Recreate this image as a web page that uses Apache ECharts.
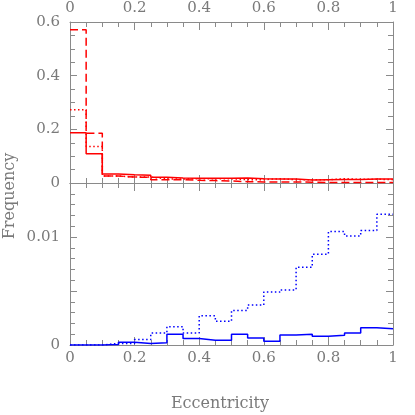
<!DOCTYPE html>
<html><head><meta charset="utf-8">
<script src="https://cdn.jsdelivr.net/npm/echarts@6/dist/echarts.min.js"></script>
<style>html,body{margin:0;padding:0;background:#fff}#c{width:415px;height:415px}</style>
</head><body><div id="c"></div>
<script>
// Bin edges (eccentricity)
const binEdges = [0,0.05,0.1,0.15,0.2,0.25,0.3,0.35,0.4,0.45,0.5,0.55,0.6,0.65,0.7,0.75,0.8,0.85,0.9,0.95,1.0];
// Top panel (red) frequencies per bin
const redSolid  = [0.1875,0.109,0.034,0.031,0.029,0.021,0.019,0.0175,0.0175,0.0175,0.019,0.016,0.015,0.015,0.0115,0.0125,0.0135,0.0135,0.015,0.015];
const redDashed = [0.571,0.185,0.026,0.022,0.021,0.0125,0.0125,0.010,0.009,0.0075,0.005,0.004,0.004,0.004,0.003,0.002,0.002,0.002,0.002,0.002];
const redDotted = [0.273,0.136,0.026,0.0225,0.022,0.015,0.015,0.016,0.016,0.016,0.0125,0.0125,0.016,0.012,0.0125,0.0125,0.016,0.0135,0.014,0.0125];
// Bottom panel (blue) frequencies per bin
const blueSolid  = [0,0,0.00005,0.00025,0.00015,0.0002,0.001,0.0006,0.00045,0.00045,0.001,0.00065,0.00034,0.00093,0.001,0.0008,0.0009,0.0011,0.0016,0.0015];
const blueDotted = [0,0,0.00015,0.00015,0.0005,0.0011,0.0017,0.0011,0.0027,0.0022,0.0032,0.0037,0.0049,0.0051,0.0072,0.0084,0.0105,0.0101,0.0106,0.0121];
// Tick labels
const topYLabels = ['0','0.2','0.4','0.6'];
const bottomYLabels = ['0','0.01'];

function steps(vals){
  const d = vals.map((v,i)=>[binEdges[i], v]);
  d.push([binEdges[vals.length], vals[vals.length-1]]);
  return d;
}
const FONT = 'DejaVu Serif';
const TXT = '#7a7a7a';
const AX = '#8a8a8a';
function xAx(grid, pos, showLabel){
  return {type:'value', gridIndex:grid, position:pos, min:0, max:1, interval:0.2,
    axisLine:{show:true, onZero:false, lineStyle:{color:AX,width:1}},
    axisTick:{show:true, inside:true, length:8, lineStyle:{color:AX}},
    minorTick:{show:true, splitNumber:4, length:5, lineStyle:{color:AX}},
    splitLine:{show:false}, minorSplitLine:{show:false},
    axisLabel:{show:showLabel, margin:6, color:TXT, fontFamily:FONT, fontSize:15,
      formatter:v=>String(v)}};
}
function yAx(grid, pos, showLabel, min, max, interval, split, labels){
  return {type:'value', gridIndex:grid, position:pos, min:min, max:max, interval:interval,
    axisLine:{show:true, onZero:false, lineStyle:{color:AX,width:1}},
    axisTick:{show:true, inside:true, length:7, lineStyle:{color:AX}},
    minorTick:{show:true, splitNumber:split, length:5, lineStyle:{color:AX}},
    splitLine:{show:false}, minorSplitLine:{show:false},
    axisLabel:{show:showLabel, margin:10, color:TXT, fontFamily:FONT, fontSize:15,
      formatter:v=>{ const s = String(+v.toFixed(4)); return labels.indexOf(s)>=0 ? s : ''; }}};
}
function ser(data, xi, yi, color, type){
  return {type:'line', xAxisIndex:xi, yAxisIndex:yi, step:'end', data:steps(data),
    symbol:'none', animation:false,
    lineStyle:{color:color, width:1.5, type:type}};
}
const chart = echarts.init(document.getElementById('c'), null, {renderer:'canvas'});
chart.setOption({
  animation:false,
  grid:[{left:70,right:22,top:22,height:161},{left:70,right:22,top:183,height:162}],
  xAxis:[xAx(0,'top',true), xAx(0,'bottom',false), xAx(1,'top',false), xAx(1,'bottom',true)],
  yAxis:[yAx(0,'left',true,0,0.6,0.2,4,topYLabels), yAx(0,'right',false,0,0.6,0.2,4,topYLabels),
         yAx(1,'left',true,0,0.015,0.005,5,bottomYLabels), yAx(1,'right',false,0,0.015,0.005,5,bottomYLabels)],
  series:[
    ser(redDotted,0,0,'#ff0000',[1.5,2.5]),
    ser(redDashed,0,0,'#ff0000',[8,4]),
    ser(redSolid,0,0,'#ff0000','solid'),
    ser(blueDotted,3,2,'#0000ff',[1.5,2.5]),
    ser(blueSolid,3,2,'#0000ff','solid')
  ],
  graphic:[
    {type:'text', x:10, y:196, rotation:Math.PI/2,
      style:{text:'Frequency', fill:TXT, font:'16px "DejaVu Serif"', align:'center', verticalAlign:'middle'}},
    {type:'text', x:220, y:404,
      style:{text:'Eccentricity', fill:TXT, font:'16px "DejaVu Serif"', align:'center', verticalAlign:'middle'}}
  ]
});
</script></body></html>
